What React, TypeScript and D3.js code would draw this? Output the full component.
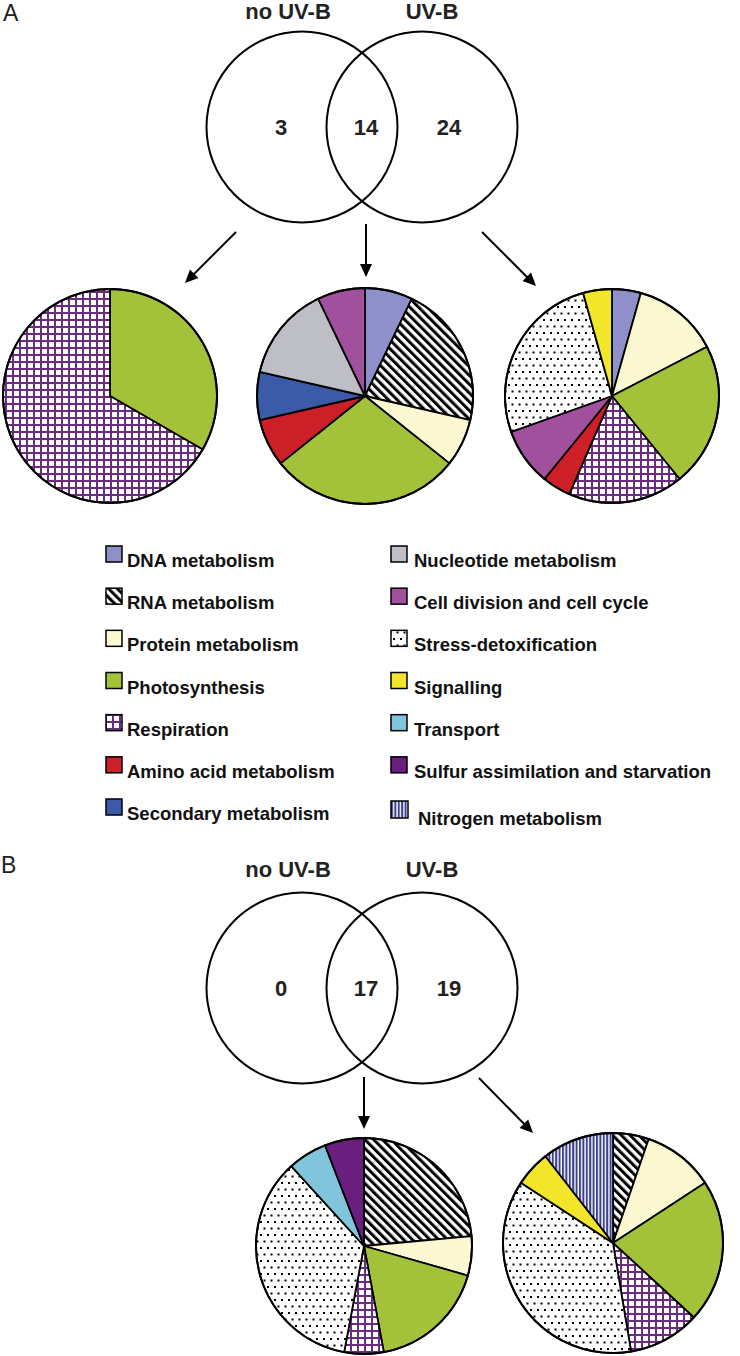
import React from "react";
import * as d3 from "d3";

// ---------- data ----------
const categories = [
  "DNA metabolism",
  "RNA metabolism",
  "Protein metabolism",
  "Photosynthesis",
  "Respiration",
  "Amino acid metabolism",
  "Secondary metabolism",
  "Nucleotide metabolism",
  "Cell division and cell cycle",
  "Stress-detoxification",
  "Signalling",
  "Transport",
  "Sulfur assimilation and starvation",
  "Nitrogen metabolism",
];

const vennLabels = ["no UV-B", "UV-B"];
const vennCountsA = [3, 14, 24];
const vennCountsB = [0, 17, 19];

// slices clockwise from 12 o'clock: [category, number of proteins]
const pieA_noUVB: [string, number][] = [
  ["Photosynthesis", 1],
  ["Respiration", 2],
];
const pieA_shared: [string, number][] = [
  ["DNA metabolism", 1],
  ["RNA metabolism", 3],
  ["Protein metabolism", 1],
  ["Photosynthesis", 4],
  ["Amino acid metabolism", 1],
  ["Secondary metabolism", 1],
  ["Nucleotide metabolism", 2],
  ["Cell division and cell cycle", 1],
];
const pieA_UVB: [string, number][] = [
  ["DNA metabolism", 1],
  ["Protein metabolism", 3],
  ["Photosynthesis", 5],
  ["Respiration", 4],
  ["Amino acid metabolism", 1],
  ["Cell division and cell cycle", 2],
  ["Stress-detoxification", 6],
  ["Signalling", 1],
];
const pieB_shared: [string, number][] = [
  ["RNA metabolism", 4],
  ["Protein metabolism", 1],
  ["Photosynthesis", 3],
  ["Respiration", 1],
  ["Stress-detoxification", 6],
  ["Transport", 1],
  ["Sulfur assimilation and starvation", 1],
];
const pieB_UVB: [string, number][] = [
  ["RNA metabolism", 1],
  ["Protein metabolism", 2],
  ["Photosynthesis", 4],
  ["Respiration", 2],
  ["Stress-detoxification", 7],
  ["Signalling", 1],
  ["Nitrogen metabolism", 2],
];

// ---------- styles ----------
const fillOf: Record<string, string> = {
  "DNA metabolism": "#8f90c9",
  "RNA metabolism": "url(#patRNA)",
  "Protein metabolism": "#fbf8d2",
  Photosynthesis: "#a3c23a",
  Respiration: "url(#patResp)",
  "Amino acid metabolism": "#cc1f27",
  "Secondary metabolism": "#3b5ba9",
  "Nucleotide metabolism": "#bebec6",
  "Cell division and cell cycle": "#a0509d",
  "Stress-detoxification": "url(#patStress)",
  Signalling: "#f2e52a",
  Transport: "#80c5db",
  "Sulfur assimilation and starvation": "#6a1f7e",
  "Nitrogen metabolism": "url(#patNitro)",
};

const FONT = "'Liberation Sans', Arial, Helvetica, sans-serif";

function Pie({ data, cx, cy, r }: { data: [string, number][]; cx: number; cy: number; r: number }) {
  const arcs = d3
    .pie<[string, number]>()
    .sort(null)
    .value((d) => d[1])(data);
  const arc = d3.arc<d3.PieArcDatum<[string, number]>>().innerRadius(0).outerRadius(r);
  return (
    <g transform={`translate(${cx},${cy})`}>
      {arcs.map((a, i) => (
        <path key={i} d={arc(a) || ""} fill={fillOf[a.data[0]]} stroke="#000" strokeWidth={1.8} strokeLinejoin="round" />
      ))}
      <circle r={r} fill="none" stroke="#000" strokeWidth={2} />
    </g>
  );
}

function Arrow({ x1, y1, x2, y2 }: { x1: number; y1: number; x2: number; y2: number }) {
  const ang = Math.atan2(y2 - y1, x2 - x1);
  const L = 13;
  const W = 6;
  const bx = x2 - L * Math.cos(ang);
  const by = y2 - L * Math.sin(ang);
  const px = -Math.sin(ang) * W;
  const py = Math.cos(ang) * W;
  return (
    <g>
      <line x1={x1} y1={y1} x2={bx + 2 * Math.cos(ang)} y2={by + 2 * Math.sin(ang)} stroke="#000" strokeWidth={2} />
      <polygon points={`${x2},${y2} ${bx + px},${by + py} ${bx - px},${by - py}`} fill="#000" />
    </g>
  );
}

function Venn({ cy, counts, labelY }: { cy: number; counts: number[]; labelY: number }) {
  const x = d3.scalePoint<number>().domain([0, 1]).range([302, 422]);
  const r = 95.5;
  const numX = [281, 366, 449];
  const labelX = [288, 432];
  return (
    <g>
      {vennLabels.map((l, i) => (
        <text key={l} x={labelX[i]} y={labelY} textAnchor="middle" fontFamily={FONT} fontWeight="bold" fontSize={22} fill="#222">
          {l}
        </text>
      ))}
      {[0, 1].map((i) => (
        <circle key={i} cx={x(i)} cy={cy} r={r} fill="none" stroke="#000" strokeWidth={2} />
      ))}
      {counts.map((c, i) => (
        <text key={i} x={numX[i]} y={cy + 8} textAnchor="middle" fontFamily={FONT} fontWeight="bold" fontSize={22} fill="#222">
          {c}
        </text>
      ))}
    </g>
  );
}

export default function App() {
  const leftCats = categories.slice(0, 7);
  const rightCats = categories.slice(7);
  const rowY = d3.scaleLinear().domain([0, 6]).range([567, 820]);
  return (
    <svg width={740} height={1356} style={{ position: "absolute", left: 0, top: 0, background: "#fff" }}>
      <defs>
        <pattern id="patRNA" width={6.2} height={6.2} patternUnits="userSpaceOnUse" patternTransform="rotate(-45)">
          <rect width={6.2} height={6.2} fill="#fff" />
          <rect width={3} height={6.2} fill="#000" />
        </pattern>
        <pattern id="patResp" width={7} height={7} patternUnits="userSpaceOnUse">
          <rect width={7} height={7} fill="#fff" />
          <rect width={2} height={7} fill="#6b2b80" />
          <rect width={7} height={2} fill="#6b2b80" />
        </pattern>
        <pattern id="patStress" width={7} height={13} patternUnits="userSpaceOnUse">
          <rect width={7} height={13} fill="#fff" />
          <rect x={1} y={1} width={2} height={2} fill="#000" />
          <rect x={4.5} y={7.5} width={2} height={2} fill="#000" />
        </pattern>
        <pattern id="patNitro" width={3.4} height={6} patternUnits="userSpaceOnUse">
          <rect width={3.4} height={6} fill="#fff" />
          <rect width={2} height={6} fill="#3a3f8e" />
        </pattern>
      </defs>

      {/* Panel A */}
      <text x={3} y={21} fontFamily={FONT} fontSize={23} fill="#222">A</text>
      <Venn cy={127} counts={vennCountsA} labelY={19} />
      <Arrow x1={236} y1={232} x2={185} y2={283} />
      <Arrow x1={366} y1={224} x2={366} y2={277} />
      <Arrow x1={482} y1={232} x2={536} y2={286} />
      <Pie data={pieA_noUVB} cx={110} cy={396} r={107} />
      <Pie data={pieA_shared} cx={365} cy={396} r={108} />
      <Pie data={pieA_UVB} cx={612} cy={396} r={107} />

      {/* Legend */}
      {leftCats.map((c, i) => (
        <g key={c}>
          <rect x={106} y={rowY(i) - 21} width={16} height={16} fill={fillOf[c]} stroke="#000" strokeWidth={1.5} />
          <text x={127} y={rowY(i)} fontFamily={FONT} fontWeight="bold" fontSize={18.5} fill="#111">{c}</text>
        </g>
      ))}
      {rightCats.map((c, i) => {
        const last = i === rightCats.length - 1;
        return (
          <g key={c}>
            <rect x={391} y={rowY(i) - 21 + (last ? 2 : 0)} width={last ? 17 : 16} height={last ? 17 : 16} fill={fillOf[c]} stroke="#000" strokeWidth={1.5} />
            <text x={last ? 418 : 414} y={rowY(i) + (last ? 5 : 0)} fontFamily={FONT} fontWeight="bold" fontSize={18.5} fill="#111">{c}</text>
          </g>
        );
      })}

      {/* Panel B */}
      <text x={1} y={873} fontFamily={FONT} fontSize={23} fill="#222">B</text>
      <Venn cy={988} counts={vennCountsB} labelY={877} />
      <Arrow x1={364} y1={1077} x2={364} y2={1129} />
      <Arrow x1={479} y1={1078} x2={533} y2={1133} />
      <Pie data={pieB_shared} cx={364} cy={1246} r={108} />
      <Pie data={pieB_UVB} cx={613} cy={1243} r={110} />
    </svg>
  );
}
